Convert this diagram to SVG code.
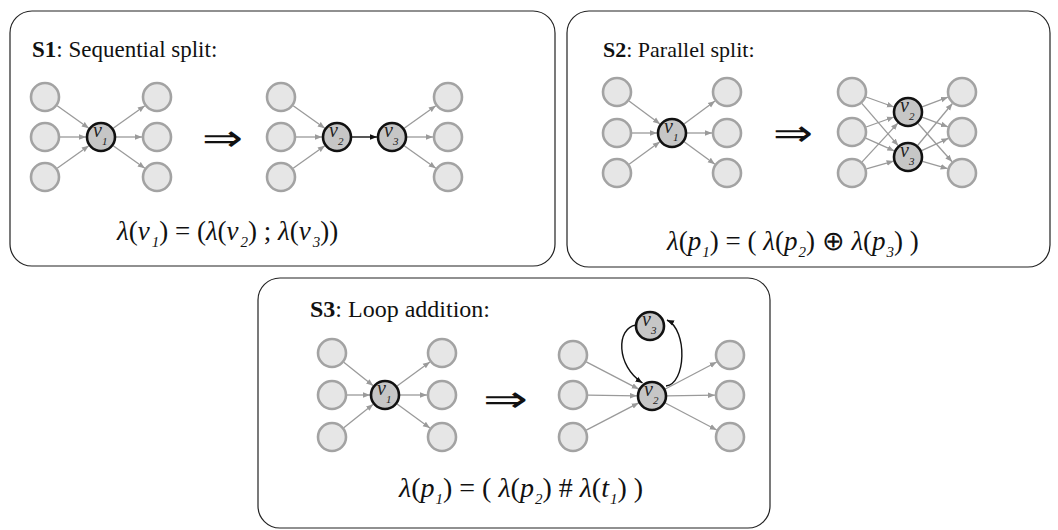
<svg xmlns="http://www.w3.org/2000/svg" width="1058" height="530" viewBox="0 0 1058 530">
<defs>
<marker id="ag" viewBox="0 0 10 10" refX="10" refY="5" markerWidth="7" markerHeight="7" markerUnits="userSpaceOnUse" orient="auto"><path d="M0,1 L10,5 L0,9 z" fill="#9a9a9a"/></marker>
<marker id="ab" viewBox="0 0 10 10" refX="10" refY="5" markerWidth="7" markerHeight="7" markerUnits="userSpaceOnUse" orient="auto"><path d="M0,1 L10,5 L0,9 z" fill="#111"/></marker>
<style>
.panel{fill:#fff;stroke:#222;stroke-width:1.2}
.g{fill:#e6e6e6;stroke:#a3a3a3;stroke-width:2.6}
.d{fill:#c6c6c6;stroke:#111;stroke-width:2.6}
.eg{stroke:#9a9a9a;stroke-width:1.3;fill:none;marker-end:url(#ag)}
.eb{stroke:#111;stroke-width:1.4;fill:none;marker-end:url(#ab)}
.t{font-family:"Liberation Serif","Times New Roman",serif;font-size:23px;fill:#111}
.bold{font-weight:bold}
.f{font-family:"Liberation Serif","Times New Roman",serif;font-size:27px;fill:#111}
.i{font-style:italic}
.s{font-size:15px;font-style:italic}
.nv{font-family:"Liberation Serif","Times New Roman",serif;font-size:20px;font-style:italic;fill:#222}
.ns{font-family:"Liberation Serif","Times New Roman",serif;font-size:11px;font-style:italic;fill:#222}
.arr{font-family:"DejaVu Sans",sans-serif;font-size:37px;fill:#111}
</style>
</defs>

<g id="panel-s1">
<rect class="panel" x="10" y="11" width="545" height="255" rx="22"/>
<text class="t" x="32" y="57"><tspan class="bold">S1</tspan>: Sequential split:</text>
<text class="arr" x="202" y="151" textLength="41" lengthAdjust="spacingAndGlyphs">⇒</text>
<text class="f" x="117" y="240"><tspan class="i">λ</tspan>(<tspan class="i">v</tspan><tspan class="s" dx="2" dy="7">1</tspan><tspan dy="-7">) = (</tspan><tspan class="i">λ</tspan>(<tspan class="i">v</tspan><tspan class="s" dx="2" dy="7">2</tspan><tspan dy="-7">) ; </tspan><tspan class="i">λ</tspan>(<tspan class="i">v</tspan><tspan class="s" dx="2" dy="7">3</tspan><tspan dy="-7">))</tspan></text>
</g>

<g id="panel-s2">
<rect class="panel" x="567" y="11" width="483" height="256" rx="22"/>
<text class="t" x="603" y="57" style="font-size:22px"><tspan class="bold">S2</tspan>: Parallel split:</text>
<text class="arr" x="773" y="146" textLength="40" lengthAdjust="spacingAndGlyphs">⇒</text>
<text class="f" x="667" y="250"><tspan class="i">λ</tspan>(<tspan class="i">p</tspan><tspan class="s" dx="1" dy="7">1</tspan><tspan dy="-7">) = ( </tspan><tspan class="i">λ</tspan>(<tspan class="i">p</tspan><tspan class="s" dx="1" dy="7">2</tspan><tspan dy="-7">) ⊕ </tspan><tspan class="i">λ</tspan>(<tspan class="i">p</tspan><tspan class="s" dx="1" dy="7">3</tspan><tspan dy="-7">) )</tspan></text>
</g>

<g id="panel-s3">
<rect class="panel" x="258" y="278" width="512" height="250" rx="22"/>
<text class="t" x="310" y="317" style="font-size:24px"><tspan class="bold">S3</tspan>: Loop addition:</text>
<text class="arr" x="483" y="412" textLength="45" lengthAdjust="spacingAndGlyphs">⇒</text>
<text class="f" x="399" y="497" style="font-size:28px"><tspan class="i">λ</tspan>(<tspan class="i">p</tspan><tspan class="s" dx="1" dy="7">1</tspan><tspan dy="-7">) = ( </tspan><tspan class="i">λ</tspan>(<tspan class="i">p</tspan><tspan class="s" dx="1" dy="7">2</tspan><tspan dy="-7">) # </tspan><tspan class="i">λ</tspan>(<tspan class="i">t</tspan><tspan class="s" dx="1" dy="7">1</tspan><tspan dy="-7">) )</tspan></text>
</g>

<g id="connectors">
<line class="eg" x1="57.2" y1="105.7" x2="88.8" y2="128.3"/>
<line class="eg" x1="60" y1="137" x2="86" y2="137"/>
<line class="eg" x1="57.2" y1="168.3" x2="88.8" y2="145.7"/>
<line class="eg" x1="113.2" y1="128.3" x2="144.8" y2="105.7"/>
<line class="eg" x1="116" y1="137" x2="142" y2="137"/>
<line class="eg" x1="113.2" y1="145.7" x2="144.8" y2="168.3"/>
<line class="eg" x1="293.2" y1="105.7" x2="324.8" y2="128.3"/>
<line class="eg" x1="296" y1="137" x2="322" y2="137"/>
<line class="eg" x1="293.2" y1="168.3" x2="324.8" y2="145.7"/>
<line class="eb" x1="352" y1="137" x2="377" y2="137"/>
<line class="eg" x1="404.2" y1="128.3" x2="435.8" y2="105.7"/>
<line class="eg" x1="407" y1="137" x2="433" y2="137"/>
<line class="eg" x1="404.2" y1="145.7" x2="435.8" y2="168.3"/>
<line class="eg" x1="629" y1="101" x2="660" y2="124"/>
<line class="eg" x1="632" y1="133" x2="657" y2="133"/>
<line class="eg" x1="629.1" y1="164.2" x2="659.9" y2="141.8"/>
<line class="eg" x1="684" y1="124" x2="715" y2="101"/>
<line class="eg" x1="687" y1="133" x2="712" y2="133"/>
<line class="eg" x1="684.1" y1="141.8" x2="714.9" y2="164.2"/>
<line class="eg" x1="866.1" y1="97" x2="893.9" y2="107"/>
<line class="eg" x1="861.8" y1="103.4" x2="898.2" y2="145.6"/>
<line class="eg" x1="866.1" y1="127" x2="893.9" y2="117"/>
<line class="eg" x1="865.7" y1="138.1" x2="894.3" y2="150.9"/>
<line class="eg" x1="862.1" y1="161.9" x2="897.9" y2="123.1"/>
<line class="eg" x1="866.4" y1="168.9" x2="893.6" y2="161.1"/>
<line class="eg" x1="922.1" y1="106.8" x2="947.9" y2="97.2"/>
<line class="eg" x1="922.1" y1="117.2" x2="947.9" y2="126.8"/>
<line class="eg" x1="917.9" y1="123.2" x2="952.1" y2="161.8"/>
<line class="eg" x1="917.6" y1="145.5" x2="952.4" y2="103.5"/>
<line class="eg" x1="921.6" y1="150.7" x2="948.4" y2="138.3"/>
<line class="eg" x1="922.4" y1="161.3" x2="947.6" y2="168.7"/>
<line class="eg" x1="343.8" y1="362.3" x2="373.2" y2="385.7"/>
<line class="eg" x1="347" y1="395" x2="370" y2="395"/>
<line class="eg" x1="343.8" y1="427.7" x2="373.2" y2="404.3"/>
<line class="eg" x1="397.1" y1="386.1" x2="429.9" y2="361.9"/>
<line class="eg" x1="400" y1="395" x2="427" y2="395"/>
<line class="eg" x1="397.1" y1="403.9" x2="429.9" y2="428.1"/>
<line class="eg" x1="586.3" y1="361.9" x2="638.7" y2="389.1"/>
<line class="eg" x1="588" y1="395.2" x2="637" y2="395.8"/>
<line class="eg" x1="586.3" y1="430.1" x2="638.7" y2="402.9"/>
<line class="eg" x1="665.3" y1="389" x2="716.7" y2="362"/>
<line class="eg" x1="667" y1="395.8" x2="715" y2="395.2"/>
<line class="eg" x1="665.3" y1="403" x2="716.7" y2="430"/>
<path class="eb" d="M636,325 C616,328 616,366 642.5,383"/>
<path class="eb" d="M666,386 C686,384 688,330 667,320"/>
</g>

<g id="s1-left">
<circle id="s1a-l1" class="g" cx="45" cy="97" r="14"/>
<circle id="s1a-l2" class="g" cx="45" cy="137" r="14"/>
<circle id="s1a-l3" class="g" cx="45" cy="177" r="14"/>
<g id="s1a-v1"><circle class="d" cx="101" cy="137" r="14"/><text class="nv" x="93" y="137">v</text><text class="ns" x="102" y="145">1</text></g>
<circle id="s1a-r1" class="g" cx="157" cy="97" r="14"/>
<circle id="s1a-r2" class="g" cx="157" cy="137" r="14"/>
<circle id="s1a-r3" class="g" cx="157" cy="177" r="14"/>
</g>
<g id="s1-right">
<circle id="s1b-l1" class="g" cx="281" cy="97" r="14"/>
<circle id="s1b-l2" class="g" cx="281" cy="137" r="14"/>
<circle id="s1b-l3" class="g" cx="281" cy="177" r="14"/>
<g id="s1b-v2"><circle class="d" cx="337" cy="137" r="14"/><text class="nv" x="329" y="137">v</text><text class="ns" x="338" y="145">2</text></g>
<g id="s1b-v3"><circle class="d" cx="392" cy="137" r="14"/><text class="nv" x="384" y="137">v</text><text class="ns" x="393" y="145">3</text></g>
<circle id="s1b-r1" class="g" cx="448" cy="97" r="14"/>
<circle id="s1b-r2" class="g" cx="448" cy="137" r="14"/>
<circle id="s1b-r3" class="g" cx="448" cy="177" r="14"/>
</g>

<g id="s2-left">
<circle id="s2a-l1" class="g" cx="617" cy="92" r="14"/>
<circle id="s2a-l2" class="g" cx="617" cy="133" r="14"/>
<circle id="s2a-l3" class="g" cx="617" cy="173" r="14"/>
<g id="s2a-v1"><circle class="d" cx="672" cy="133" r="14"/><text class="nv" x="664" y="133">v</text><text class="ns" x="673" y="141">1</text></g>
<circle id="s2a-r1" class="g" cx="727" cy="92" r="14"/>
<circle id="s2a-r2" class="g" cx="727" cy="133" r="14"/>
<circle id="s2a-r3" class="g" cx="727" cy="173" r="14"/>
</g>
<g id="s2-right">
<circle id="s2b-l1" class="g" cx="852" cy="92" r="14"/>
<circle id="s2b-l2" class="g" cx="852" cy="132" r="14"/>
<circle id="s2b-l3" class="g" cx="852" cy="173" r="14"/>
<g id="s2b-v2"><circle class="d" cx="908" cy="112" r="14"/><text class="nv" x="900" y="112">v</text><text class="ns" x="909" y="120">2</text></g>
<g id="s2b-v3"><circle class="d" cx="908" cy="157" r="14"/><text class="nv" x="900" y="157">v</text><text class="ns" x="909" y="165">3</text></g>
<circle id="s2b-r1" class="g" cx="962" cy="92" r="14"/>
<circle id="s2b-r2" class="g" cx="962" cy="132" r="14"/>
<circle id="s2b-r3" class="g" cx="962" cy="173" r="14"/>
</g>

<g id="s3-left">
<circle id="s3a-l1" class="g" cx="332" cy="353" r="14"/>
<circle id="s3a-l2" class="g" cx="332" cy="395" r="14"/>
<circle id="s3a-l3" class="g" cx="332" cy="437" r="14"/>
<g id="s3a-v1"><circle class="d" cx="385" cy="395" r="14"/><text class="nv" x="377" y="395">v</text><text class="ns" x="386" y="403">1</text></g>
<circle id="s3a-r1" class="g" cx="442" cy="353" r="14"/>
<circle id="s3a-r2" class="g" cx="442" cy="395" r="14"/>
<circle id="s3a-r3" class="g" cx="442" cy="437" r="14"/>
</g>
<g id="s3-right">
<circle id="s3b-l1" class="g" cx="573" cy="355" r="14"/>
<circle id="s3b-l2" class="g" cx="573" cy="395" r="14"/>
<circle id="s3b-l3" class="g" cx="573" cy="437" r="14"/>
<g id="s3b-v3"><circle class="d" cx="650" cy="326" r="14"/><text class="nv" x="642" y="326">v</text><text class="ns" x="651" y="334">3</text></g>
<g id="s3b-v2"><circle class="d" cx="652" cy="396" r="14"/><text class="nv" x="644" y="396">v</text><text class="ns" x="653" y="404">2</text></g>
<circle id="s3b-r1" class="g" cx="730" cy="355" r="14"/>
<circle id="s3b-r2" class="g" cx="730" cy="395" r="14"/>
<circle id="s3b-r3" class="g" cx="730" cy="437" r="14"/>
</g>
</svg>
